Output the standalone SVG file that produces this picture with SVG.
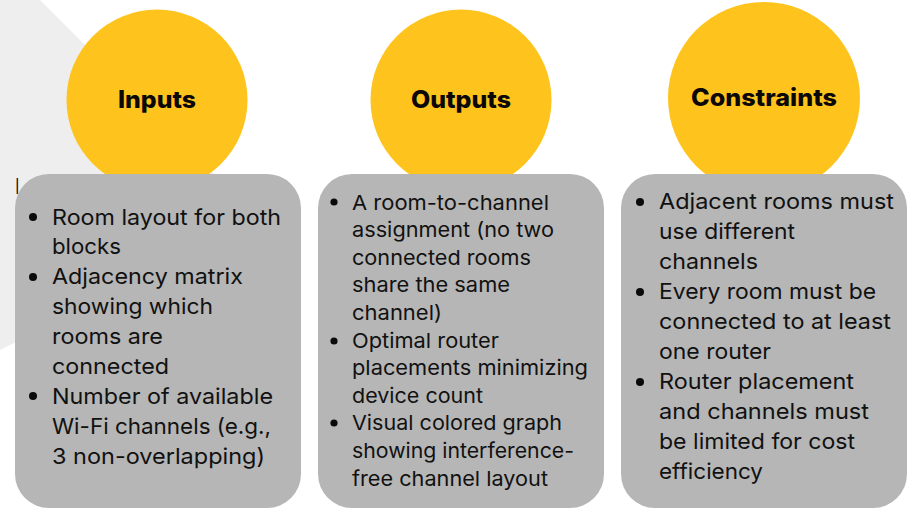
<svg xmlns="http://www.w3.org/2000/svg" width="922" height="525" viewBox="0 0 922 525">
<style>
text{font-family:"Inter","Liberation Sans",sans-serif;fill:#111}
.t{font-size:24px;font-weight:800;fill:#0c0808}
.a{font-size:22px}
.b{font-size:20.5px}
.c{font-size:22px}
.card{fill:#b6b6b6}
.sun{fill:#fec41d}
.dot{fill:#0a0a0a}
</style>
<rect width="922" height="525" fill="#fff"/>
<polygon id="backdrop" points="0,0 40,0 260,220 0,350" fill="#eeeeee"/>
<g id="inputs">
<circle class="sun" cx="157" cy="100" r="90.5"/>
<text class="t" x="118" y="108" textLength="78" lengthAdjust="spacingAndGlyphs">Inputs</text>
<rect class="card" x="15" y="174" width="286" height="334" rx="34"/>
<text x="15.5" y="194" font-size="22" fill="#000" style="fill:#000" textLength="3.5" lengthAdjust="spacingAndGlyphs">I</text>
<circle class="dot" cx="33" cy="217" r="4"/><circle class="dot" cx="33" cy="277" r="4"/><circle class="dot" cx="33" cy="396" r="4"/>
<text class="a" x="52" y="225" textLength="229" lengthAdjust="spacingAndGlyphs">Room layout for both</text>
<text class="a" x="52" y="254" textLength="69" lengthAdjust="spacingAndGlyphs">blocks</text>
<text class="a" x="52" y="284" textLength="191" lengthAdjust="spacingAndGlyphs">Adjacency matrix</text>
<text class="a" x="52" y="314" textLength="161" lengthAdjust="spacingAndGlyphs">showing which</text>
<text class="a" x="52" y="344" textLength="111" lengthAdjust="spacingAndGlyphs">rooms are</text>
<text class="a" x="52" y="374" textLength="117" lengthAdjust="spacingAndGlyphs">connected</text>
<text class="a" x="52" y="404" textLength="221" lengthAdjust="spacingAndGlyphs">Number of available</text>
<text class="a" x="52" y="434" textLength="219" lengthAdjust="spacingAndGlyphs">Wi-Fi channels (e.g.,</text>
<text class="a" x="52" y="464" textLength="213" lengthAdjust="spacingAndGlyphs">3 non-overlapping)</text>
</g>
<g id="outputs">
<circle class="sun" cx="461" cy="100" r="90.5"/>
<text class="t" x="411" y="108" textLength="100" lengthAdjust="spacingAndGlyphs">Outputs</text>
<rect class="card" x="318" y="174" width="286" height="334" rx="34"/>
<circle class="dot" cx="334" cy="202" r="3.6"/><circle class="dot" cx="334" cy="341" r="3.6"/><circle class="dot" cx="334" cy="423" r="3.6"/>
<text class="b" x="352" y="210" textLength="197" lengthAdjust="spacingAndGlyphs">A room-to-channel</text>
<text class="b" x="352" y="237" textLength="202" lengthAdjust="spacingAndGlyphs">assignment (no two</text>
<text class="b" x="352" y="265" textLength="179" lengthAdjust="spacingAndGlyphs">connected rooms</text>
<text class="b" x="352" y="292" textLength="158" lengthAdjust="spacingAndGlyphs">share the same</text>
<text class="b" x="352" y="320" textLength="90" lengthAdjust="spacingAndGlyphs">channel)</text>
<text class="b" x="352" y="348" textLength="147" lengthAdjust="spacingAndGlyphs">Optimal router</text>
<text class="b" x="352" y="375" textLength="236" lengthAdjust="spacingAndGlyphs">placements minimizing</text>
<text class="b" x="352" y="403" textLength="131" lengthAdjust="spacingAndGlyphs">device count</text>
<text class="b" x="352" y="430" textLength="210" lengthAdjust="spacingAndGlyphs">Visual colored graph</text>
<text class="b" x="352" y="458" textLength="222" lengthAdjust="spacingAndGlyphs">showing interference-</text>
<text class="b" x="352" y="486" textLength="196" lengthAdjust="spacingAndGlyphs">free channel layout</text>
</g>
<g id="constraints">
<circle class="sun" cx="764" cy="98" r="96"/>
<text class="t" x="691" y="106" textLength="146" lengthAdjust="spacingAndGlyphs">Constraints</text>
<rect class="card" x="621" y="174" width="286" height="334" rx="34"/>
<circle class="dot" cx="640" cy="202" r="4"/><circle class="dot" cx="640" cy="292" r="4"/><circle class="dot" cx="640" cy="382" r="4"/>
<text class="c" x="659" y="209" textLength="235" lengthAdjust="spacingAndGlyphs">Adjacent rooms must</text>
<text class="c" x="659" y="239" textLength="136" lengthAdjust="spacingAndGlyphs">use different</text>
<text class="c" x="659" y="269" textLength="99" lengthAdjust="spacingAndGlyphs">channels</text>
<text class="c" x="659" y="299" textLength="217" lengthAdjust="spacingAndGlyphs">Every room must be</text>
<text class="c" x="659" y="329" textLength="232" lengthAdjust="spacingAndGlyphs">connected to at least</text>
<text class="c" x="659" y="359" textLength="112" lengthAdjust="spacingAndGlyphs">one router</text>
<text class="c" x="659" y="389" textLength="195" lengthAdjust="spacingAndGlyphs">Router placement</text>
<text class="c" x="659" y="419" textLength="210" lengthAdjust="spacingAndGlyphs">and channels must</text>
<text class="c" x="659" y="449" textLength="196" lengthAdjust="spacingAndGlyphs">be limited for cost</text>
<text class="c" x="659" y="479" textLength="104" lengthAdjust="spacingAndGlyphs">efficiency</text>
</g>
</svg>
